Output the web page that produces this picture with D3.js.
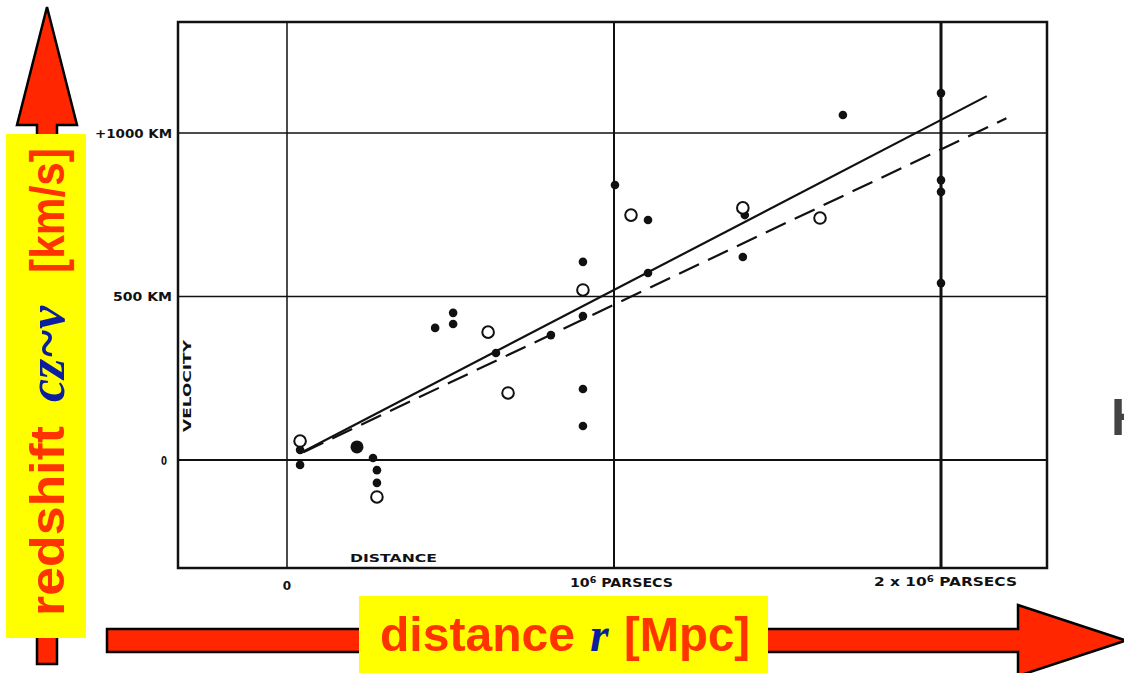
<!DOCTYPE html>
<html>
<head>
<meta charset="utf-8">
<style>
  body { margin: 0; background: #fff; }
  svg { display: block; }
  .tick { font-family: "DejaVu Sans", sans-serif; font-weight: bold; fill: #111; }
  .big  { font-family: "Liberation Sans", Arial, sans-serif; font-weight: bold; fill: #ff3300; }
  .sym  { font-family: "Liberation Serif", "Times New Roman", serif; font-weight: bold; font-style: italic; fill: #0b1f9e; }
</style>
<script src="https://cdn.jsdelivr.net/npm/d3@7"></script>
</head>
<body>
<script>

// Individual nebulae (filled dots): distance in Mpc, velocity in km/s
var nebulaDist = [0.04, 0.04, 0.263, 0.275, 0.275, 0.453, 0.508, 0.508, 0.639, 0.807,
                  0.905, 0.905, 0.905, 0.905, 1.003, 1.104, 1.104, 1.394, 1.40, 1.70,
                  2.0, 2.0, 2.0, 2.0];
var nebulaVel  = [-15, 31, 6, -31, -70, 404, 450, 416, 327, 382,
                  606, 440, 217, 104, 841, 734, 572, 621, 749, 1055,
                  1122, 856, 820, 541];

// the blotted double dot near the origin
var blotDist = [0.214];
var blotVel  = [40];

// Group means (open circles)
var groupDist = [0.04, 0.275, 0.615, 0.676, 0.905, 1.052, 1.394, 1.63];
var groupVel  = [58, -113, 391, 205, 520, 749, 771, 740];

// Fitted lines: slope (km/s per Mpc) and distance extent
var solidK = 520,  solidFrom = 0.046, solidTo = 2.14;
var dashK  = 475,  dashFrom  = 0.05,  dashTo  = 2.2;

// Grid and tick labels
var xTicks = [0, 1, 2];
var yTicks = [0, 500, 1000];
var yTickLabels = ["0", "500 KM", "+1000 KM"];

var W = 1124, H = 673;
var frame = {left: 178, top: 22, right: 1047, bottom: 568};

var x = d3.scaleLinear().domain([0, 2]).range([287, 941]);
var y = d3.scaleLinear().domain([0, 1000]).range([460, 133]);

var svg = d3.select("body").append("svg")
    .attr("width", W)
    .attr("height", H);

// ---- the plot (scanned figure) ----
var plot = svg.append("g");

plot.append("rect")
    .attr("x", frame.left).attr("y", frame.top)
    .attr("width", frame.right - frame.left)
    .attr("height", frame.bottom - frame.top)
    .attr("fill", "none").attr("stroke", "#111").attr("stroke-width", 2.5);

var vWidths = [1.5, 2, 3];
plot.selectAll(".vgrid").data(xTicks).enter().append("line")
    .attr("class", "vgrid")
    .attr("x1", d => x(d)).attr("x2", d => x(d))
    .attr("y1", frame.top).attr("y2", frame.bottom)
    .attr("stroke", "#111").attr("stroke-width", (d, i) => vWidths[i]);

plot.selectAll(".hgrid").data(yTicks).enter().append("line")
    .attr("class", "hgrid")
    .attr("x1", frame.left).attr("x2", frame.right)
    .attr("y1", d => y(d)).attr("y2", d => y(d))
    .attr("stroke", "#111").attr("stroke-width", (d, i) => i == 0 ? 2 : 1.6);

// y tick labels
var yLabelWidth = [6, 59, 77];
plot.selectAll(".ylab").data(yTicks).enter().append("text")
    .attr("class", "tick")
    .attr("x", (d, i) => i == 0 ? 167 : 172)
    .attr("y", d => y(d) + 4.5)
    .attr("text-anchor", "end")
    .attr("font-size", 12)
    .attr("textLength", (d, i) => yLabelWidth[i])
    .attr("lengthAdjust", "spacingAndGlyphs")
    .text((d, i) => yTickLabels[i]);

// x tick labels
plot.append("text").attr("class", "tick")
    .attr("x", x(0)).attr("y", 590).attr("text-anchor", "middle")
    .attr("font-size", 12).text("0");

var lab1 = plot.append("text").attr("class", "tick")
    .attr("x", 570).attr("y", 587).attr("font-size", 12)
    .attr("textLength", 103).attr("lengthAdjust", "spacingAndGlyphs");
lab1.append("tspan").text("10");
lab1.append("tspan").attr("dy", -4).attr("font-size", 8).text("6");
lab1.append("tspan").attr("dy", 4).text(" PARSECS");

var lab2 = plot.append("text").attr("class", "tick")
    .attr("x", 874).attr("y", 586).attr("font-size", 12)
    .attr("textLength", 143).attr("lengthAdjust", "spacingAndGlyphs");
lab2.append("tspan").text("2 x 10");
lab2.append("tspan").attr("dy", -4).attr("font-size", 8).text("6");
lab2.append("tspan").attr("dy", 4).text(" PARSECS");

plot.append("text").attr("class", "tick")
    .attr("x", 350).attr("y", 562).attr("font-size", 11)
    .attr("textLength", 87).attr("lengthAdjust", "spacingAndGlyphs")
    .text("DISTANCE");

plot.append("text").attr("class", "tick")
    .attr("transform", "translate(191,432) rotate(-90)")
    .attr("font-size", 11)
    .attr("textLength", 92).attr("lengthAdjust", "spacingAndGlyphs")
    .text("VELOCITY");

// fitted lines
plot.append("line")
    .attr("x1", x(solidFrom)).attr("y1", y(solidK * solidFrom))
    .attr("x2", x(solidTo)).attr("y2", y(solidK * solidTo))
    .attr("stroke", "#111").attr("stroke-width", 2.2);

plot.append("line")
    .attr("x1", x(dashFrom)).attr("y1", y(dashK * dashFrom))
    .attr("x2", x(dashTo)).attr("y2", y(dashK * dashTo))
    .attr("stroke", "#111").attr("stroke-width", 2.2)
    .attr("stroke-dasharray", "22,10");

// points
plot.selectAll(".neb").data(nebulaDist).enter().append("circle")
    .attr("class", "neb")
    .attr("cx", d => x(d))
    .attr("cy", (d, i) => y(nebulaVel[i]))
    .attr("r", 4.3).attr("fill", "#111");

plot.selectAll(".blot").data(blotDist).enter().append("circle")
    .attr("class", "blot")
    .attr("cx", d => x(d))
    .attr("cy", (d, i) => y(blotVel[i]))
    .attr("r", 6.5).attr("fill", "#111");

plot.selectAll(".grp").data(groupDist).enter().append("circle")
    .attr("class", "grp")
    .attr("cx", d => x(d))
    .attr("cy", (d, i) => y(groupVel[i]))
    .attr("r", 5.8).attr("fill", "#fff")
    .attr("stroke", "#111").attr("stroke-width", 2);

// ---- annotation arrows ----
var ann = svg.append("g");

ann.append("path")
    .attr("d", "M47,7 L77,125 L57,125 L57,664 L37,664 L37,125 L17,125 Z")
    .attr("fill", "#ff2600").attr("stroke", "#000").attr("stroke-width", 2.5)
    .attr("stroke-linejoin", "miter");

ann.append("path")
    .attr("d", "M107,629 L1018,629 L1018,605 L1126,640.5 L1018,676 L1018,652 L107,652 Z")
    .attr("fill", "#ff2600").attr("stroke", "#000").attr("stroke-width", 2.5);

// yellow label boxes
ann.append("rect").attr("x", 6).attr("y", 134).attr("width", 80).attr("height", 504)
    .attr("fill", "#ffff00");
ann.append("rect").attr("x", 359).attr("y", 596).attr("width", 409).attr("height", 77)
    .attr("fill", "#ffff00");

// horizontal label
ann.append("text").attr("class", "big")
    .attr("x", 380).attr("y", 651).attr("font-size", 48)
    .attr("textLength", 195).attr("lengthAdjust", "spacingAndGlyphs")
    .text("distance");
ann.append("text").attr("class", "sym")
    .attr("x", 590).attr("y", 651).attr("font-size", 48)
    .text("r");
ann.append("text").attr("class", "big")
    .attr("x", 624).attr("y", 651).attr("font-size", 48)
    .attr("textLength", 126).attr("lengthAdjust", "spacingAndGlyphs")
    .text("[Mpc]");

// vertical label
var vl = ann.append("g").attr("transform", "translate(64,616) rotate(-90)");
vl.append("text").attr("class", "big")
    .attr("x", 0).attr("y", 0).attr("font-size", 48)
    .attr("textLength", 190).attr("lengthAdjust", "spacingAndGlyphs")
    .text("redshift");
vl.append("text").attr("class", "sym")
    .attr("x", 214).attr("y", 0).attr("font-size", 52)
    .text("cz~v");
vl.append("text").attr("class", "big")
    .attr("x", 343).attr("y", 0).attr("font-size", 48)
    .attr("textLength", 125).attr("lengthAdjust", "spacingAndGlyphs")
    .text("[km/s]");

// letter cut by the right edge, as in the source slide
svg.append("text")
    .attr("x", 1111).attr("y", 435)
    .attr("font-family", "Liberation Sans, Arial, sans-serif")
    .attr("font-weight", "bold").attr("font-size", 51)
    .attr("fill", "#444").text("H");

</script>
</body>
</html>
